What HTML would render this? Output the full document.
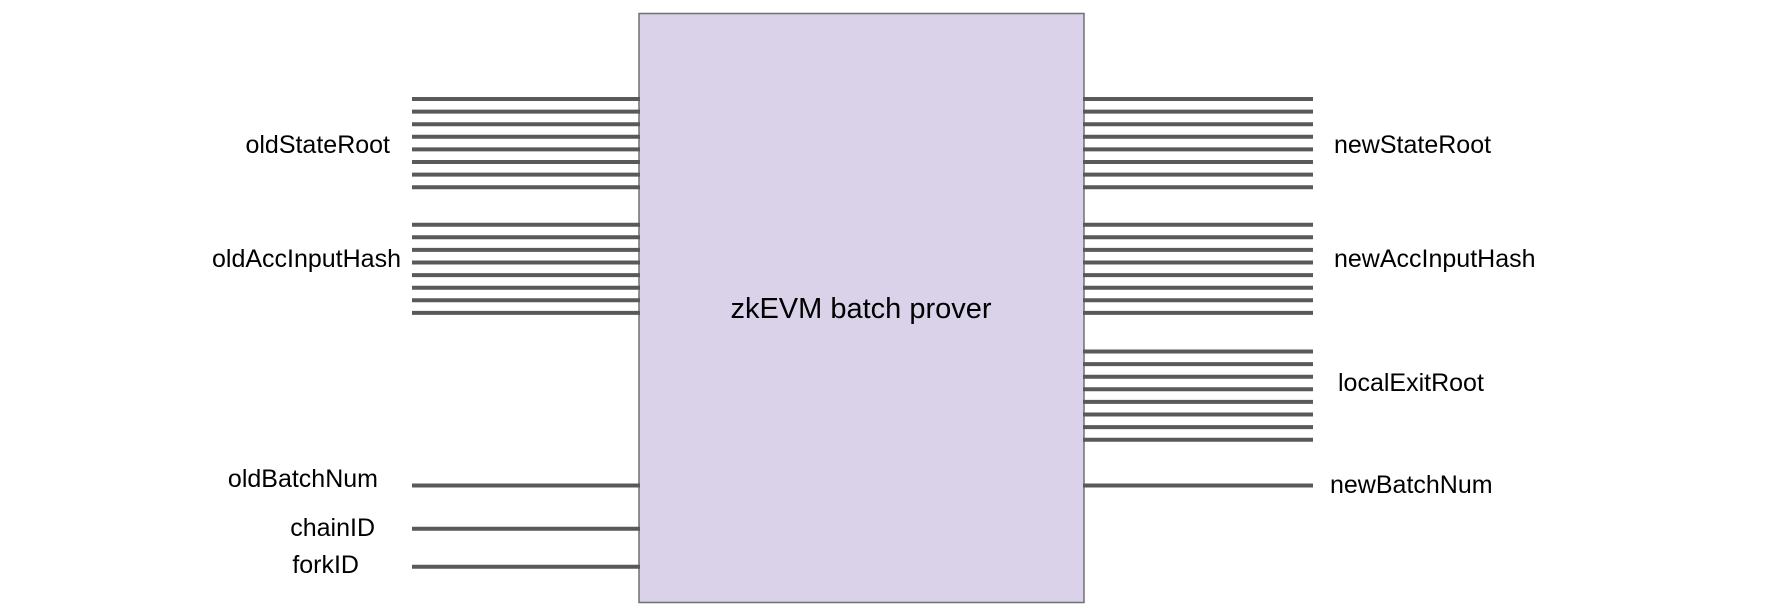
<!DOCTYPE html>
<html><head><meta charset="utf-8"><style>html,body{margin:0;padding:0;background:#fff}svg{display:block}</style></head>
<body>
<svg width="1770" height="614" viewBox="0 0 1770 614" xmlns="http://www.w3.org/2000/svg" font-family="Liberation Sans, Arial, sans-serif" fill="#000">
<rect x="639" y="13.5" width="445" height="589" fill="#d9d2e9" stroke="#707070" stroke-width="1.5"/>
<g stroke="#595959" stroke-width="4">
<line x1="412" y1="99" x2="640" y2="99"/><line x1="412" y1="111.6" x2="640" y2="111.6"/>
<line x1="412" y1="124.2" x2="640" y2="124.2"/><line x1="412" y1="136.8" x2="640" y2="136.8"/>
<line x1="412" y1="149.4" x2="640" y2="149.4"/><line x1="412" y1="162" x2="640" y2="162"/>
<line x1="412" y1="174.6" x2="640" y2="174.6"/><line x1="412" y1="187.2" x2="640" y2="187.2"/>
<line x1="412" y1="224.7" x2="640" y2="224.7"/><line x1="412" y1="237.3" x2="640" y2="237.3"/>
<line x1="412" y1="249.9" x2="640" y2="249.9"/><line x1="412" y1="262.5" x2="640" y2="262.5"/>
<line x1="412" y1="275.1" x2="640" y2="275.1"/><line x1="412" y1="287.7" x2="640" y2="287.7"/>
<line x1="412" y1="300.3" x2="640" y2="300.3"/><line x1="412" y1="312.9" x2="640" y2="312.9"/>
<line x1="412" y1="485.5" x2="640" y2="485.5"/>
<line x1="412" y1="528.8" x2="640" y2="528.8"/>
<line x1="412" y1="566.7" x2="640" y2="566.7"/>
<line x1="1083" y1="99" x2="1313" y2="99"/><line x1="1083" y1="111.6" x2="1313" y2="111.6"/>
<line x1="1083" y1="124.2" x2="1313" y2="124.2"/><line x1="1083" y1="136.8" x2="1313" y2="136.8"/>
<line x1="1083" y1="149.4" x2="1313" y2="149.4"/><line x1="1083" y1="162" x2="1313" y2="162"/>
<line x1="1083" y1="174.6" x2="1313" y2="174.6"/><line x1="1083" y1="187.2" x2="1313" y2="187.2"/>
<line x1="1083" y1="224.7" x2="1313" y2="224.7"/><line x1="1083" y1="237.3" x2="1313" y2="237.3"/>
<line x1="1083" y1="249.9" x2="1313" y2="249.9"/><line x1="1083" y1="262.5" x2="1313" y2="262.5"/>
<line x1="1083" y1="275.1" x2="1313" y2="275.1"/><line x1="1083" y1="287.7" x2="1313" y2="287.7"/>
<line x1="1083" y1="300.3" x2="1313" y2="300.3"/><line x1="1083" y1="312.9" x2="1313" y2="312.9"/>
<line x1="1083" y1="351.5" x2="1313" y2="351.5"/><line x1="1083" y1="364.1" x2="1313" y2="364.1"/>
<line x1="1083" y1="376.7" x2="1313" y2="376.7"/><line x1="1083" y1="389.3" x2="1313" y2="389.3"/>
<line x1="1083" y1="401.9" x2="1313" y2="401.9"/><line x1="1083" y1="414.5" x2="1313" y2="414.5"/>
<line x1="1083" y1="427.1" x2="1313" y2="427.1"/><line x1="1083" y1="439.8" x2="1313" y2="439.8"/>
<line x1="1083" y1="485.5" x2="1313" y2="485.5"/>
</g>
<g font-size="25">
<text x="390" y="153" text-anchor="end">oldStateRoot</text>
<text x="401" y="267" text-anchor="end">oldAccInputHash</text>
<text x="378" y="487" text-anchor="end">oldBatchNum</text>
<text x="375" y="536" text-anchor="end">chainID</text>
<text x="359" y="573" text-anchor="end">forkID</text>
<text x="1334" y="153">newStateRoot</text>
<text x="1334" y="267">newAccInputHash</text>
<text x="1338" y="391">localExitRoot</text>
<text x="1330" y="493">newBatchNum</text>
</g>
<text x="861" y="318" font-size="29" text-anchor="middle">zkEVM batch prover</text>
</svg>
</body></html>
